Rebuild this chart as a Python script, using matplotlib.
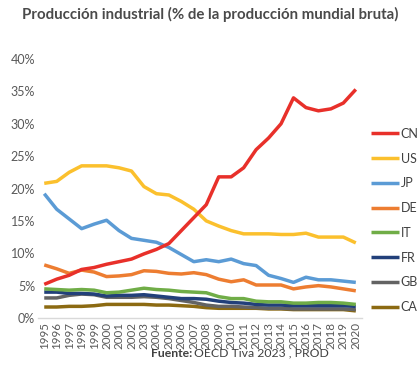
import matplotlib.pyplot as plt
import numpy as np

plt.rcParams['font.family'] = ['Lato', 'DejaVu Sans']

years = list(range(1995, 2021))

cn = [5.2, 6.0, 6.6, 7.5, 7.8, 8.3, 8.7, 9.1, 9.9, 10.6, 11.5, 13.5, 15.5, 17.5,
      21.8, 21.8, 23.2, 26.0, 27.8, 30.0, 34.0, 32.5, 32.0, 32.3, 33.2, 35.3]
us = [20.8, 21.1, 22.5, 23.5, 23.5, 23.5, 23.2, 22.7, 20.3, 19.2, 19.0, 18.0, 16.8, 15.0,
      14.2, 13.5, 13.0, 13.0, 13.0, 12.9, 12.9, 13.1, 12.5, 12.5, 12.5, 11.6]
jp = [19.2, 16.8, 15.3, 13.8, 14.5, 15.1, 13.5, 12.3, 12.0, 11.7, 10.9, 9.8, 8.7, 9.0,
      8.7, 9.1, 8.4, 8.1, 6.6, 6.1, 5.5, 6.3, 5.9, 5.9, 5.7, 5.5]
de = [8.2, 7.6, 6.9, 7.4, 7.1, 6.4, 6.5, 6.7, 7.3, 7.2, 6.9, 6.8, 7.0, 6.7,
      6.0, 5.6, 5.9, 5.1, 5.1, 5.1, 4.5, 4.8, 5.0, 4.8, 4.5, 4.2]
it = [4.5, 4.4, 4.3, 4.4, 4.3, 3.9, 4.0, 4.3, 4.6, 4.4, 4.3, 4.1, 4.0, 3.9,
      3.3, 3.0, 3.0, 2.6, 2.5, 2.5, 2.3, 2.3, 2.4, 2.4, 2.3, 2.1]
fr = [4.0, 4.0, 3.8, 3.8, 3.7, 3.4, 3.5, 3.5, 3.6, 3.4, 3.2, 3.0, 3.0, 2.9,
      2.6, 2.4, 2.3, 2.1, 2.0, 2.0, 1.9, 1.9, 1.9, 1.9, 1.9, 1.8]
gb = [3.1, 3.1, 3.5, 3.7, 3.6, 3.2, 3.2, 3.2, 3.3, 3.2, 3.0, 2.7, 2.4, 2.0,
      1.8, 1.8, 1.7, 1.6, 1.5, 1.5, 1.4, 1.4, 1.4, 1.4, 1.4, 1.3]
ca = [1.7, 1.7, 1.8, 1.8, 1.9, 2.1, 2.1, 2.1, 2.1, 2.0, 2.0, 1.9, 1.8, 1.6,
      1.5, 1.5, 1.5, 1.5, 1.4, 1.4, 1.3, 1.3, 1.3, 1.3, 1.3, 1.1]

labels = ['CN', 'US', 'JP', 'DE', 'IT', 'FR', 'GB', 'CA']
series = [cn, us, jp, de, it, fr, gb, ca]
colors = ['#E8302A', '#FBC02D', '#5B9BD5', '#ED7D31', '#70AD47', '#22407A', '#636363', '#8C6A12']

fig = plt.figure(figsize=(4.2, 3.7), dpi=100)
ax = fig.add_axes([0.0905, 0.1405, 0.7715, 0.70])

x = np.arange(len(years))
lines = []
for i in range(len(series) - 1, -1, -1):
    ln, = ax.plot(x, series[i], color=colors[i], linewidth=2.5, label=labels[i],
                  solid_capstyle='butt', zorder=3 + (len(series) - i))
    lines.insert(0, ln)

ax.set_xlim(-0.5, len(years) - 0.5)
ax.set_ylim(0, 40)
ax.set_yticks(range(0, 41, 5))
ax.set_yticklabels([f'{v}%' for v in range(0, 41, 5)], fontsize=9, color='#595959')
ax.set_xticks(x)
ax.set_xticklabels([str(y) for y in years], rotation=90, fontsize=8.4, color='#595959')
ax.tick_params(length=0, pad=3)
ax.tick_params(axis='y', pad=2)

for s in ['top', 'right', 'left']:
    ax.spines[s].set_visible(False)
ax.spines['bottom'].set_color('#d9d9d9')
ax.spines['bottom'].set_linewidth(1.0)

fig.legend(lines, labels, loc='upper left', bbox_to_anchor=(0.872, 0.668),
           frameon=False, fontsize=9, handlelength=2.2, handletextpad=0.15,
           labelspacing=1.02, borderaxespad=0, labelcolor='#404040')

fig.text(0.5, 0.962, 'Producción industrial (% de la producción mundial bruta)',
         ha='center', va='center', fontsize=10.8, fontweight='bold', color='#4a4a4a')

fig.text(0.458, 0.045, 'Fuente:', ha='right', va='center', fontsize=8.8,
         fontweight='bold', color='#404040')
fig.text(0.462, 0.045, 'OECD Tiva 2023 , PROD', ha='left', va='center', fontsize=8.8,
         color='#404040')

fig.savefig('out.png', dpi=100)
